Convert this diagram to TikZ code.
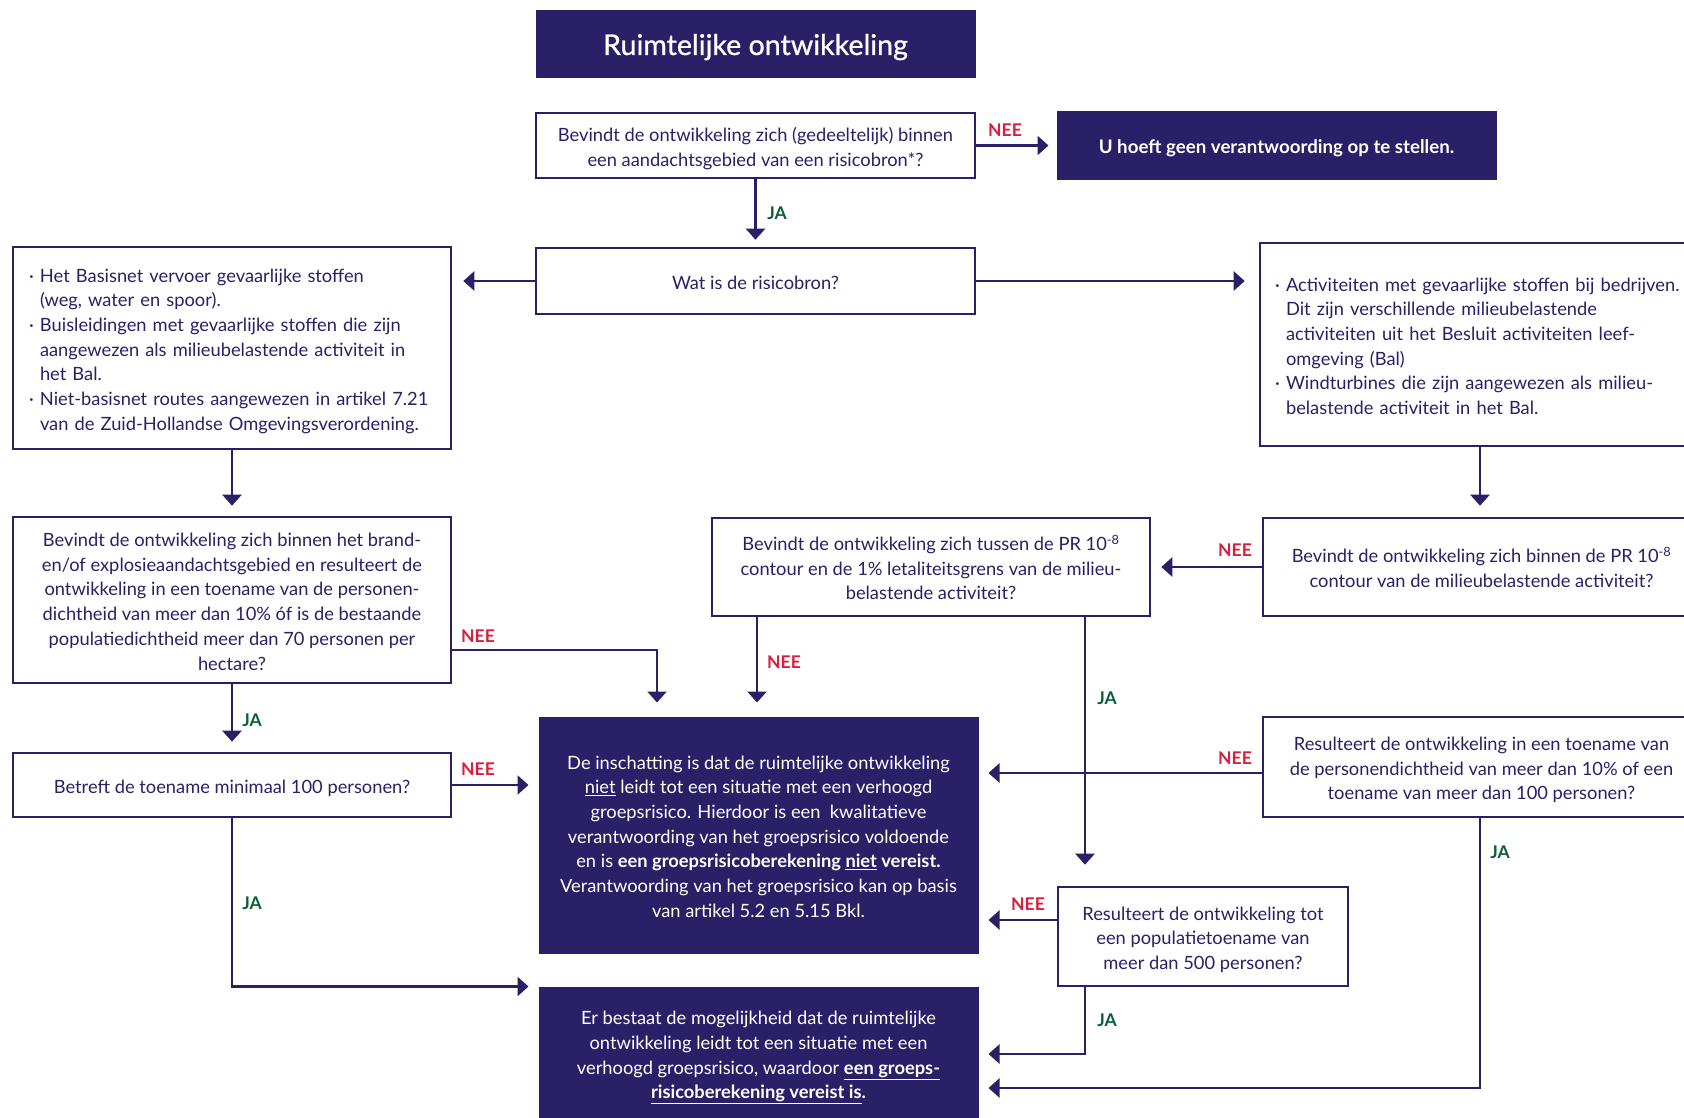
\documentclass[tikz,border=0pt]{standalone}
\usepackage{fontspec}
\setmainfont{Lato}
\newfontfamily\titlefont[FakeBold=0.8]{Lato}
\usetikzlibrary{arrows.meta,calc}
\definecolor{navy}{HTML}{2A2068}
\definecolor{neered}{HTML}{D81E3C}
\definecolor{jagreen}{HTML}{0B5E36}
\newcommand\mybody{\fontsize{18.3}{24.7}\selectfont}
\newcommand\mylbl{\fontsize{17.5}{20}\selectfont\bfseries}
\newcommand\ts{\rule{0pt}{21pt}}
\newcommand\te{\rule[-4.5pt]{0pt}{4.5pt}}
\newcommand\bul{\makebox[11pt][l]{·}}
\newcommand\ind{\hspace*{11pt}}
\begin{document}
\begin{tikzpicture}[x=1pt,y=-1pt,
  box/.style={draw=navy, line width=2.6pt, fill=white, text=navy, align=center, inner sep=0pt, font=\mybody},
  darkbox/.style={draw=navy, line width=1pt, fill=navy, text=white, align=center, inner sep=0pt, font=\mybody},
  arr/.style={draw=navy, line width=2.6pt, -{Triangle[length=11pt,width=19pt]}},
  nee/.style={text=neered, font=\mylbl, inner sep=0pt},
  ja/.style={text=jagreen, font=\mylbl, inner sep=0pt}]
\clip (0,0) rectangle (1684,1118);
\fill[white] (0,0) rectangle (1684,1118);

% boxes
\node[darkbox, minimum width=439pt, minimum height=67pt, font=\fontsize{28.6}{32}\titlefont] (T) at (755.5,44.5) {\rule{0pt}{28pt}Ruimtelijke ontwikkeling\rule[-7pt]{0pt}{7pt}};
\node[box, minimum width=439pt, minimum height=65pt] (Q1) at (755.5,145.5) {\ts Bevindt de ontwikkeling zich (gedeeltelijk) binnen\\een aandachtsgebied van een risicobron*?\te};
\node[darkbox, minimum width=439pt, minimum height=68pt, font=\fontsize{18.7}{22}\selectfont\bfseries] (U) at (1276.5,145.5) {\ts U hoeft geen verantwoording op te stellen.\te};
\node[box, minimum width=439pt, minimum height=66pt] (Wat) at (755.5,281) {\ts Wat is de risicobron?\te};
\node[box, minimum width=438pt, minimum height=202pt, align=left, text width=406pt] (A) at (232,348) {%
\ts\bul Het Basisnet vervoer gevaarlijke stoffen\\
\ind(weg, water en spoor).\\
\bul Buisleidingen met gevaarlijke stoffen die zijn\\
\ind aangewezen als milieubelastende activiteit in\\
\ind het Bal.\\
\bul Niet-basisnet routes aangewezen in artikel 7.21\\
\ind van de Zuid-Hollandse Omgevingsverordening.\te};
\node[box, minimum width=440pt, minimum height=203pt, align=left, text width=410pt] (B) at (1480,344.5) {%
\ts\bul Activiteiten met gevaarlijke stoffen bij bedrijven.\\
\ind Dit zijn verschillende milieubelastende\\
\ind activiteiten uit het Besluit activiteiten leef-\\
\ind omgeving (Bal)\\
\bul Windturbines die zijn aangewezen als milieu-\\
\ind belastende activiteit in het Bal.\te};
\node[box, minimum width=438pt, minimum height=166pt] (C) at (232,600) {\ts Bevindt de ontwikkeling zich binnen het brand-\\en/of explosieaandachtsgebied en resulteert de\\ontwikkeling in een toename van de personen-\\dichtheid van meer dan 10\% óf is de bestaande\\populatiedichtheid meer dan 70 personen per\\hectare?\te};
\node[box, minimum width=438pt, minimum height=98pt] (D) at (931,567) {\ts Bevindt de ontwikkeling zich tussen de PR 10\textsuperscript{-8}\\contour en de 1\% letaliteitsgrens van de milieu-\\belastende activiteit?\te};
\node[box, minimum width=437pt, minimum height=98pt] (E) at (1481.5,567) {\ts Bevindt de ontwikkeling zich binnen de PR 10\textsuperscript{-8}\\contour van de milieubelastende activiteit?\te};
\node[box, minimum width=438pt, minimum height=64pt] (F) at (232,785) {\ts Betreft de toename minimaal 100 personen?\te};
\node[darkbox, minimum width=439pt, minimum height=236pt] (G) at (758.5,835) {\ts De inschatting is dat de ruimtelijke ontwikkeling\\\underline{niet} leidt tot een situatie met een verhoogd\\groepsrisico. Hierdoor is een\ \ kwalitatieve\\verantwoording van het groepsrisico voldoende\\en is \textbf{een groepsrisicoberekening \underline{niet} vereist.}\\Verantwoording van het groepsrisico kan op basis\\van artikel 5.2 en 5.15 Bkl.\te};
\node[box, minimum width=437pt, minimum height=100pt] (H) at (1481.5,767) {\ts Resulteert de ontwikkeling in een toename van\\de personendichtheid van meer dan 10\% of een\\toename van meer dan 100 personen?\te};
\node[box, minimum width=290pt, minimum height=99pt] (I) at (1203,936.5) {\ts Resulteert de ontwikkeling tot\\een populatietoename van\\meer dan 500 personen?\te};
\node[darkbox, minimum width=439pt, minimum height=134pt] (J) at (758.5,1054) {\ts Er bestaat de mogelijkheid dat de ruimtelijke\\ontwikkeling leidt tot een situatie met een\\verhoogd groepsrisico, waardoor \textbf{\underline{een groeps-}}\\\textbf{\underline{risicoberekening vereist is}.}\te};

% connectors
\draw[arr, shorten >=8pt] (Q1.east) -- (U.west);
\node[nee] (l1) at (1005,130) {NEE};
\draw[arr, shorten >=7pt] (Q1.south) -- (Wat.north);
\node[ja] (l2) at (777,213) {JA};
\draw[arr, shorten >=11pt] (Wat.west) -- (A.east |- Wat.west);
\draw[arr, shorten >=14pt] (Wat.east) -- (B.west |- Wat.east);
\draw[arr, shorten >=10pt] (A.south) -- (C.north);
\coordinate (b1) at (B.south);
\draw[arr, shorten >=11pt] (b1) -- (b1 |- E.north);
\draw[arr, shorten >=10pt] (E.west) -- (D.east);
\node[nee] (l3) at (1235,550) {NEE};
\coordinate (c1) at ([yshift=-50pt]C.east);
\coordinate (g1) at ([xshift=-101.5pt]G.north);
\draw[arr, shorten >=14pt] (c1) -| (g1);
\node[nee] (l4) at (478,636) {NEE};
\coordinate (d1) at ([xshift=-174pt]D.south);
\draw[arr, shorten >=14pt] (d1) -- (d1 |- G.north);
\node[nee] (l5) at (784,662) {NEE};
\coordinate (d2) at ([xshift=154pt]D.south);
\draw[arr, shorten >=21pt] (d2) -- (d2 |- I.north);
\node[ja] (l6) at (1107,698) {JA};
\draw[arr, shorten >=10pt] (C.south) -- (F.north);
\node[ja] (l7) at (252,720) {JA};
\draw[arr, shorten >=10pt] (F.east) -- (G.west |- F.east);
\node[nee] (l8) at (478,769) {NEE};
\coordinate (h1) at ([yshift=-6pt]H.west);
\draw[arr, shorten >=10pt] (h1) -- (h1 -| G.east);
\node[nee] (l9) at (1235,758) {NEE};
\coordinate (i1) at ([yshift=16.5pt]I.west);
\draw[arr, shorten >=10pt] (i1) -- (i1 -| G.east);
\node[nee] (l10) at (1028,904) {NEE};
\coordinate (i2) at ([xshift=-118pt]I.south);
\draw[arr, shorten >=10pt] (i2) |- (J.east);
\node[ja] (l11) at (1107,1020) {JA};
\coordinate (h2) at ([xshift=-1.5pt]H.south);
\coordinate (j1) at ([yshift=-34pt]J.east);
\draw[arr, shorten >=10pt] (h2) |- (j1);
\node[ja] (l12) at (1500,852) {JA};
\draw[arr, shorten >=10pt] (F.south) |- (J.north west);
\node[ja] (l13) at (252,903) {JA};
\end{tikzpicture}
\end{document}
